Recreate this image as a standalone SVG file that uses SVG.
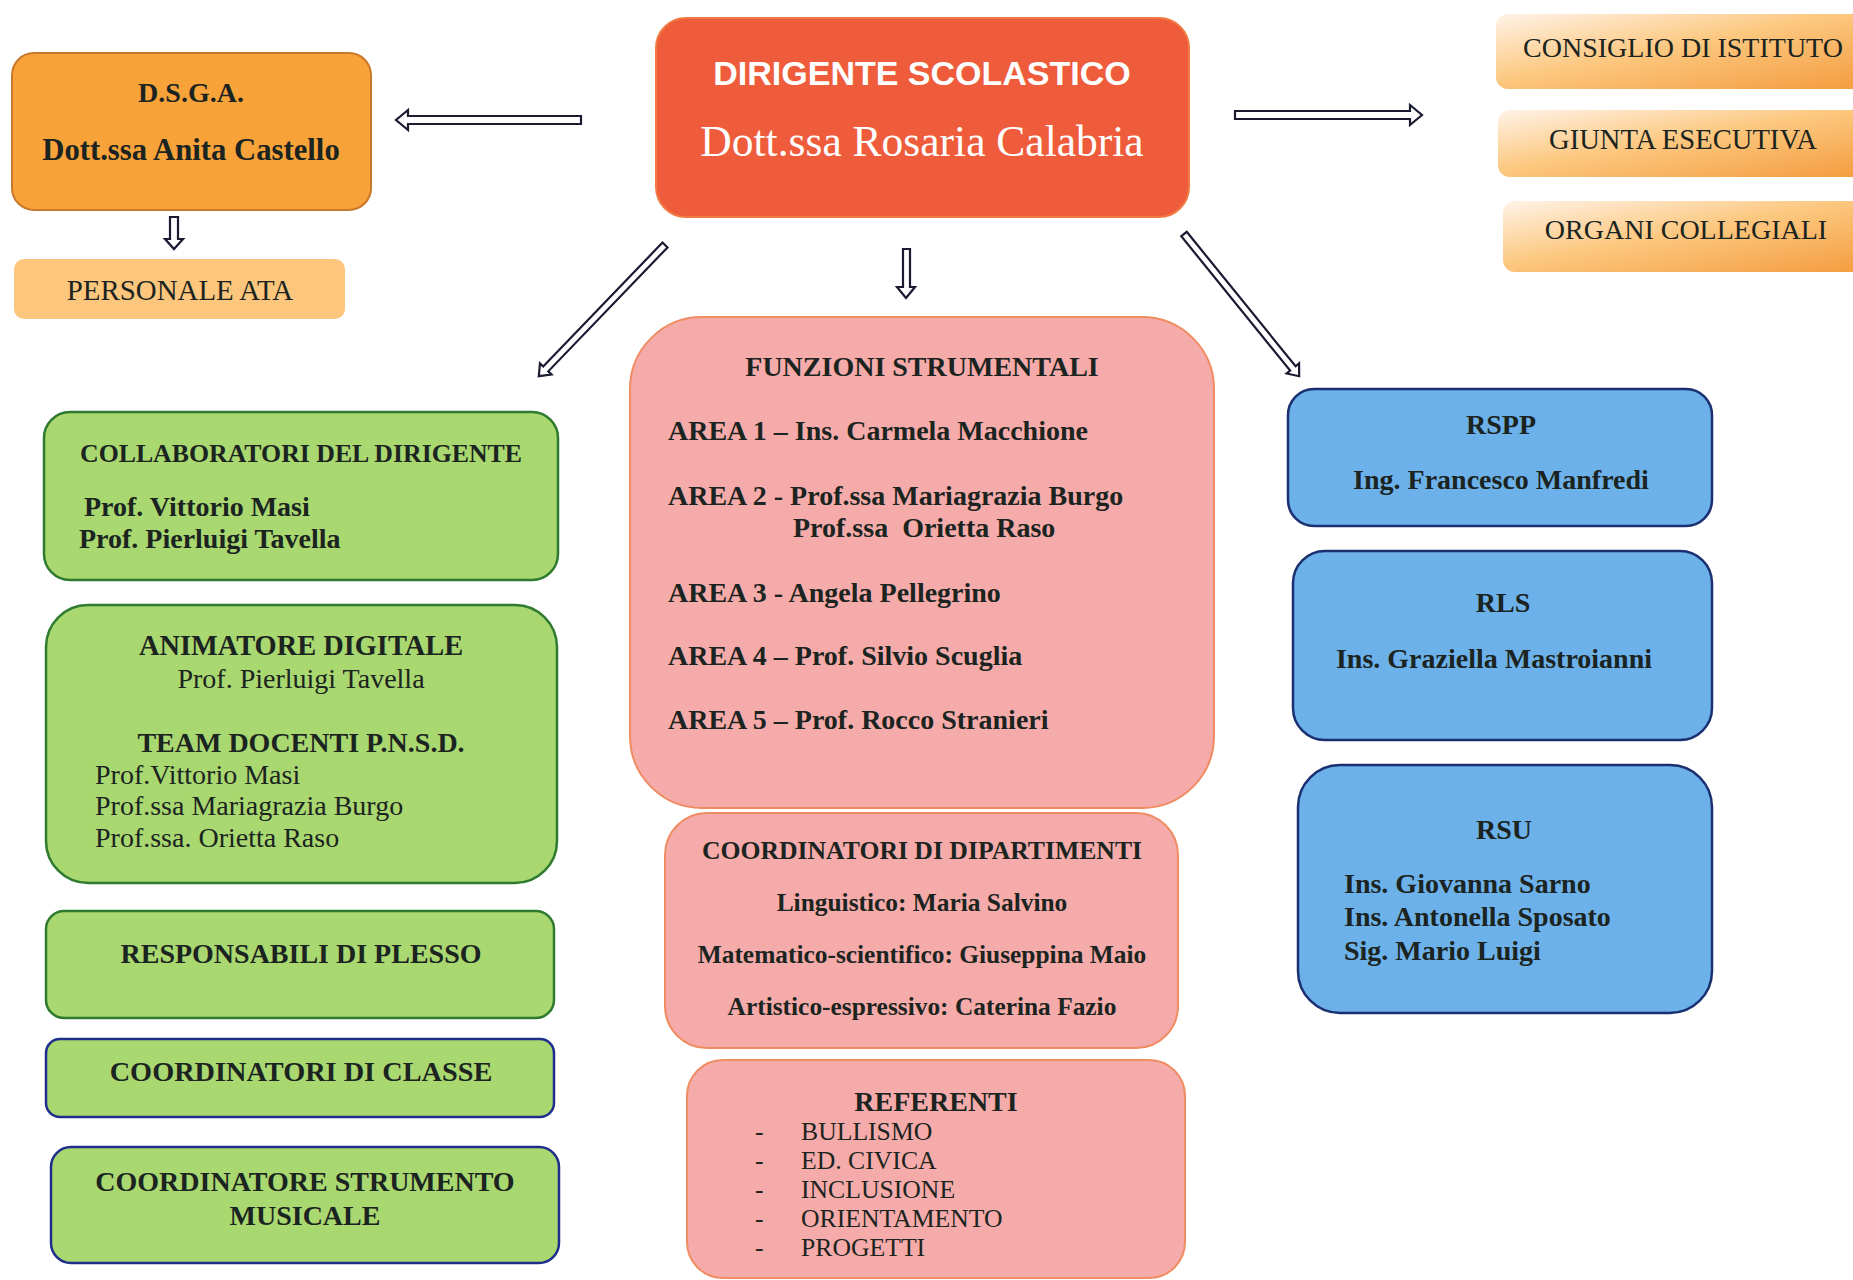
<svg xmlns="http://www.w3.org/2000/svg" width="1853" height="1280" viewBox="0 0 1853 1280">
<defs>
<linearGradient id="gOrg" x1="0" y1="0" x2="1" y2="1">
<stop offset="0" stop-color="#FFF3E8"/>
<stop offset="0.45" stop-color="#FCC880"/>
<stop offset="1" stop-color="#F49A3C"/>
</linearGradient>
<style>
.t{font-family:"Liberation Serif","Times New Roman",serif;fill:#1b2420;font-size:28px}
.b{font-weight:bold}
.c{text-anchor:middle}
.green{fill:#A9D770;stroke:#2E7A2E;stroke-width:2.5}
.greenb{fill:#A9D770;stroke:#1F2E8A;stroke-width:2.5}
.pink{fill:#F5ABA9;stroke:#F08C62;stroke-width:2}
.blue{fill:#6DB1EA;stroke:#1A3070;stroke-width:2.5}
.arr{fill:#fff;stroke:#1a1a30;stroke-width:2.2;stroke-linejoin:miter}
.org{fill:url(#gOrg)}
.dep{font-size:25.4px}
.ref{font-size:25.7px}
</style>
</defs>

<g id="connectors">
<polygon class="arr" points="581,116 408,116 408,110 396,120 408,130 408,124 581,124"/>
<polygon class="arr" points="1235,111 1410,111 1410,105 1422,115 1410,125 1410,119 1235,119"/>
<polygon class="arr" points="170,217 178,217 178,239 183,239 174,249 165,239 170,239"/>
<polygon class="arr" points="903,249 910,249 910,287 915,287 906,298 897,287 903,287"/>
<g transform="translate(665,245) rotate(133.9)">
<polygon class="arr" points="0,-3.5 172,-3.5 172,-8 182,0 172,8 172,3.5 0,3.5"/>
</g>
<g transform="translate(1184,234) rotate(51)">
<polygon class="arr" points="0,-3.5 173,-3.5 173,-8 183,0 173,8 173,3.5 0,3.5"/>
</g>
</g>

<g id="dirigente">
<rect x="656" y="18" width="533" height="199" rx="30" fill="#EE5C3C" stroke="#F27A42" stroke-width="2"/>
<text x="922" y="85" text-anchor="middle" font-family="'Liberation Sans',Arial,sans-serif" font-weight="bold" font-size="34" fill="#ffffff">DIRIGENTE SCOLASTICO</text>
<text x="922" y="156" text-anchor="middle" font-family="'Liberation Serif','Times New Roman',serif" font-size="43.5" fill="#ffffff">Dott.ssa Rosaria Calabria</text>
</g>

<g id="dsga">
<rect x="12" y="53" width="359" height="157" rx="22" fill="#F8A23A" stroke="#C9782A" stroke-width="2"/>
<text class="t b c" x="191" y="102">D.S.G.A.</text>
<text class="t b c" x="191" y="160" style="font-size:30.7px">Dott.ssa Anita Castello</text>
</g>

<g id="personale-ata">
<rect x="14" y="259" width="331" height="60" rx="10" fill="#FCC67C"/>
<text class="t c" x="180" y="300" style="font-size:28.9px">PERSONALE ATA</text>
</g>

<g id="consiglio">
<rect x="1496" y="14" width="380" height="75" rx="12" class="org"/>
<text class="t c" x="1683" y="57">CONSIGLIO DI ISTITUTO</text>
</g>
<g id="giunta">
<rect x="1498" y="110" width="380" height="67" rx="12" class="org"/>
<text class="t c" x="1683" y="149" style="font-size:28.6px">GIUNTA ESECUTIVA</text>
</g>
<g id="organi">
<rect x="1503" y="201" width="380" height="71" rx="12" class="org"/>
<text class="t c" x="1686" y="239">ORGANI COLLEGIALI</text>
</g>

<g id="collaboratori">
<rect class="green" x="44" y="412" width="514" height="168" rx="26"/>
<text class="t b" x="80" y="462" style="font-size:25.8px">COLLABORATORI DEL DIRIGENTE</text>
<text class="t b" x="84" y="516">Prof. Vittorio Masi</text>
<text class="t b" x="79" y="548">Prof. Pierluigi Tavella</text>
</g>

<g id="animatore">
<rect class="green" x="46" y="605" width="511" height="278" rx="42"/>
<text class="t b c" x="301" y="655" style="font-size:28.4px">ANIMATORE DIGITALE</text>
<text class="t c" x="301" y="688">Prof. Pierluigi Tavella</text>
<text class="t b c" x="301" y="752">TEAM DOCENTI P.N.S.D.</text>
<text class="t" x="95" y="784">Prof.Vittorio Masi</text>
<text class="t" x="95" y="815">Prof.ssa Mariagrazia Burgo</text>
<text class="t" x="95" y="847">Prof.ssa. Orietta Raso</text>
</g>

<g id="responsabili">
<rect class="green" x="46" y="911" width="508" height="107" rx="18"/>
<text class="t b c" x="301" y="963">RESPONSABILI DI PLESSO</text>
</g>

<g id="coord-classe">
<rect class="greenb" x="46" y="1039" width="508" height="78" rx="14"/>
<text class="t b c" x="301" y="1081" style="font-size:28.3px">COORDINATORI DI CLASSE</text>
</g>

<g id="coord-strumento">
<rect class="greenb" x="51" y="1147" width="508" height="116" rx="20"/>
<text class="t b c" x="305" y="1191">COORDINATORE STRUMENTO</text>
<text class="t b c" x="305" y="1225">MUSICALE</text>
</g>

<g id="funzioni">
<rect class="pink" x="630" y="317" width="584" height="491" rx="72"/>
<text class="t b c" x="922" y="376">FUNZIONI STRUMENTALI</text>
<text class="t b" x="668" y="440">AREA 1 – Ins. Carmela Macchione</text>
<text class="t b" x="668" y="505">AREA 2 - Prof.ssa Mariagrazia Burgo</text>
<text class="t b" x="793" y="537" xml:space="preserve">Prof.ssa  Orietta Raso</text>
<text class="t b" x="668" y="602">AREA 3 - Angela Pellegrino</text>
<text class="t b" x="668" y="665">AREA 4 – Prof. Silvio Scuglia</text>
<text class="t b" x="668" y="729">AREA 5 – Prof. Rocco Stranieri</text>
</g>

<g id="dipartimenti">
<rect class="pink" x="665" y="813" width="513" height="235" rx="42"/>
<text class="t b c" x="922" y="859" style="font-size:25.7px">COORDINATORI DI DIPARTIMENTI</text>
<text class="t b c dep" x="922" y="911">Linguistico: Maria Salvino</text>
<text class="t b c dep" x="922" y="963">Matematico-scientifico: Giuseppina Maio</text>
<text class="t b c dep" x="922" y="1015">Artistico-espressivo: Caterina Fazio</text>
</g>

<g id="referenti">
<rect class="pink" x="687" y="1060" width="498" height="218" rx="36"/>
<text class="t b c" x="936" y="1111">REFERENTI</text>
<text class="t ref" x="755" y="1140">-</text>
<text class="t ref" x="801" y="1140">BULLISMO</text>
<text class="t ref" x="755" y="1169">-</text>
<text class="t ref" x="801" y="1169">ED. CIVICA</text>
<text class="t ref" x="755" y="1198">-</text>
<text class="t ref" x="801" y="1198">INCLUSIONE</text>
<text class="t ref" x="755" y="1227">-</text>
<text class="t ref" x="801" y="1227">ORIENTAMENTO</text>
<text class="t ref" x="755" y="1256">-</text>
<text class="t ref" x="801" y="1256">PROGETTI</text>
</g>

<g id="rspp">
<rect class="blue" x="1288" y="389" width="424" height="137" rx="26"/>
<text class="t b c" x="1501" y="434">RSPP</text>
<text class="t b c" x="1501" y="489">Ing. Francesco Manfredi</text>
</g>

<g id="rls">
<rect class="blue" x="1293" y="551" width="419" height="189" rx="32"/>
<text class="t b c" x="1503" y="612">RLS</text>
<text class="t b c" x="1494" y="668">Ins. Graziella Mastroianni</text>
</g>

<g id="rsu">
<rect class="blue" x="1298" y="765" width="414" height="248" rx="42"/>
<text class="t b c" x="1504" y="839">RSU</text>
<text class="t b" x="1344" y="893">Ins. Giovanna Sarno</text>
<text class="t b" x="1344" y="926">Ins. Antonella Sposato</text>
<text class="t b" x="1344" y="960">Sig. Mario Luigi</text>
</g>
</svg>
